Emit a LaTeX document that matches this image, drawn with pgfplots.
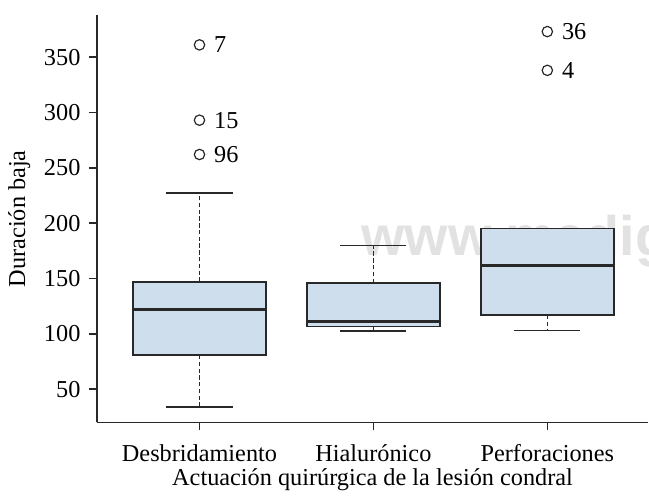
\documentclass[border=0pt]{standalone}
\usepackage{pgfplots}
\pgfplotsset{compat=1.18}
\usepgfplotslibrary{statistics}
\usepackage{fontspec}
\setmainfont{Liberation Serif}
\newfontfamily\wmfont{Liberation Sans}
\definecolor{boxfill}{RGB}{207,222,236}
\definecolor{edge}{RGB}{40,40,40}
\definecolor{wm}{RGB}{226,226,226}
\pgfplotsset{
  boxplot/draw/lower whisker/.code={%
    \draw[dash pattern=on 2.2bp off 1.2bp]
      (boxplot box cs:\pgfplotsboxplotvalue{lower quartile},0.5) --
      (boxplot box cs:\pgfplotsboxplotvalue{lower whisker},0.5);
    \draw (boxplot whisker cs:\pgfplotsboxplotvalue{lower whisker},0) --
      (boxplot whisker cs:\pgfplotsboxplotvalue{lower whisker},1);
  },
  boxplot/draw/upper whisker/.code={%
    \draw[dash pattern=on 2.2bp off 1.2bp]
      (boxplot box cs:\pgfplotsboxplotvalue{upper quartile},0.5) --
      (boxplot box cs:\pgfplotsboxplotvalue{upper whisker},0.5);
    \draw (boxplot whisker cs:\pgfplotsboxplotvalue{upper whisker},0) --
      (boxplot whisker cs:\pgfplotsboxplotvalue{upper whisker},1);
  },
}
\begin{document}
\fontsize{12.2}{14.6}\selectfont
\begin{tikzpicture}
\begin{axis}[
  scale only axis, width=276bp, height=204bp,
  xmin=0.41, xmax=3.58, ymin=20, ymax=388,
  axis x line*=bottom, axis y line*=left,
  axis line style={edge, line width=0.8bp},
  tick style={edge, line width=0.8bp},
  tick align=outside, major tick length=4bp,
  xtick={1,2,3}, xticklabels={Desbridamiento,Hialurónico,Perforaciones},
  ytick={50,100,150,200,250,300,350},
  /pgf/number format/assume math mode=true,
  ticklabel style={font=\fontsize{12.2}{14.6}\selectfont},
  xticklabel style={yshift=-2.5bp, text height=9bp, text depth=2.5bp},
  label style={font=\fontsize{12.2}{14.6}\selectfont},
  xlabel={Actuación quirúrgica de la lesión condral},
  xlabel style={yshift=7.5bp},
  ylabel={Duración baja},
  ylabel shift=-1.5bp,
  boxplot/draw direction=y,
  boxplot/box extend=0.764,
  boxplot/whisker extend=0.38,
  boxplot/every median/.style={line width=1.6bp},
]
\node[anchor=base west, font=\wmfont\bfseries\fontsize{28}{30}\selectfont, text=wm, inner sep=0] at (axis cs:1.93,171) {www.medigraphic.com};

\addplot[draw=edge, fill=boxfill, line width=0.8bp,
  boxplot prepared={draw position=1, lower whisker=34, lower quartile=81,
    median=122, upper quartile=147, upper whisker=227}] coordinates {};
\addplot[draw=edge, fill=boxfill, line width=0.8bp,
  boxplot prepared={draw position=2, lower whisker=102.5, lower quartile=106.5,
    median=111, upper quartile=146, upper whisker=180}] coordinates {};
\addplot[draw=edge, fill=boxfill, line width=0.8bp,
  boxplot prepared={draw position=3, lower whisker=103, lower quartile=117,
    median=162, upper quartile=195, upper whisker=195}] coordinates {};

\addplot[only marks, mark=o, mark size=2.6bp, draw=edge, line width=0.6bp,
  nodes near coords, point meta=explicit symbolic,
  nodes near coords style={anchor=west, xshift=3bp, text=black, font=\fontsize{12.2}{14.6}\selectfont}]
  table[meta=label, row sep=\\] {
  x y label \\
  1 361 7 \\
  1 293 15 \\
  1 262 96 \\
  3 373 36 \\
  3 338 4 \\
};
\end{axis}
\path (current axis.south west) ++(-48.5bp,-33.5bp) rectangle ([yshift=7.5bp]current axis.north east);
\end{tikzpicture}
\end{document}
